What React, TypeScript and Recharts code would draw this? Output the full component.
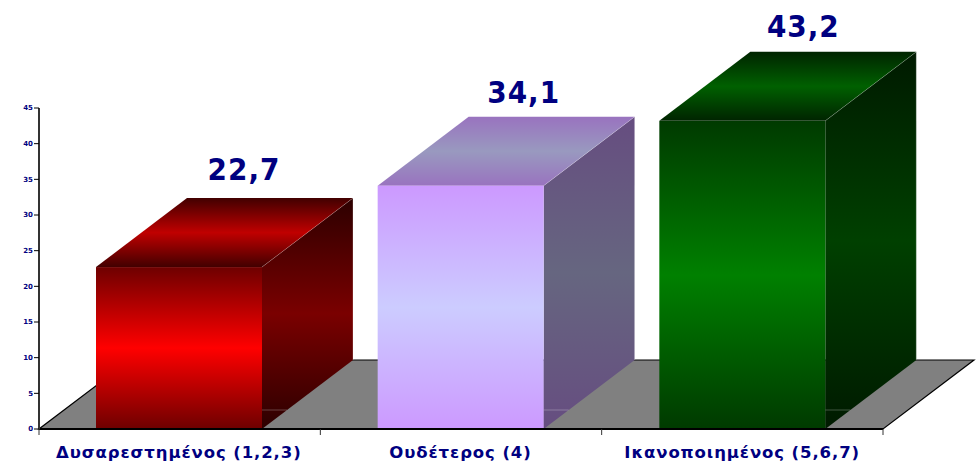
import React from "react"
import { BarChart, Bar, XAxis, YAxis, LabelList, ReferenceArea } from "recharts"

const categories = ["Δυσαρεστημένος (1,2,3)", "Ουδέτερος (4)", "Ικανοποιημένος (5,6,7)"]
const values = [22.7, 34.1, 43.2]
const valueTicks = [0, 5, 10, 15, 20, 25, 30, 35, 40, 45]
// the tick-only axis has no series, recharts gives it the domain 0..2 (the data indexes)
const boundaryTicks = [0, 2 / 3, 4 / 3, 2]

// [edge, middle] colours of each face, front / side / top
const frontColors = [["#6e0000", "#ff0000"], ["#cc99ff", "#ccccff"], ["#003a00", "#008000"]]
const sideColors = [["#2c0000", "#7a0000"], ["#664d80", "#666680"], ["#001a00", "#004000"]]
const topColors = [["#420000", "#c00000"], ["#9973bf", "#9999bf"], ["#002400", "#006000"]]

const data = categories.map((name, i) => ({ name, value: values[i] }))

const DEPTH_X = 91
const DEPTH_Y = 69
const NAVY = "#000080"
const FONT = "'DejaVu Sans', Verdana, sans-serif"

// the labels do not sit at the same place over each box in the original
const labelShiftX = [65, 63, 61]
const labelGap = [87, 83, 84]

function Gradient({ id, colors }: { id: string; colors: string[] }) {
  return (
    <linearGradient id={id} x1="0" y1="0" x2="0" y2="1">
      <stop offset="0%" stopColor={colors[0]} />
      <stop offset="50%" stopColor={colors[1]} />
      <stop offset="100%" stopColor={colors[0]} />
    </linearGradient>
  )
}

// the grey floor the boxes stand on
function Floor({ x, y, width, height }: any) {
  const bottom = y + height
  const points = [
    [x, bottom],
    [x + width, bottom],
    [x + width + DEPTH_X, bottom - DEPTH_Y],
    [x + DEPTH_X, bottom - DEPTH_Y],
  ]
  return <polygon points={points.join(" ")} fill="#808080" stroke="#000" strokeWidth={1.2} />
}

function Box({ x, y, width, height, index }: any) {
  const right = x + width
  const bottom = y + height
  const side = [[right, y], [right + DEPTH_X, y - DEPTH_Y], [right + DEPTH_X, bottom - DEPTH_Y], [right, bottom]]
  const top = [[x, y], [x + DEPTH_X, y - DEPTH_Y], [right + DEPTH_X, y - DEPTH_Y], [right, y]]
  const edge = "rgba(255,255,255,0.25)"
  return (
    <g>
      <polygon points={side.join(" ")} fill={`url(#side${index})`} />
      <polygon points={top.join(" ")} fill={`url(#top${index})`} />
      <rect x={x} y={y} width={width} height={height} fill={`url(#front${index})`} />
      <line x1={right} y1={bottom - 19} x2={right + 25} y2={bottom - 19} stroke={edge} />
      <line x1={right} y1={y} x2={right + DEPTH_X} y2={y - DEPTH_Y} stroke={edge} strokeWidth={0.8} />
      <line x1={right + DEPTH_X} y1={y - DEPTH_Y} x2={right + DEPTH_X} y2={bottom - DEPTH_Y} stroke={edge} />
    </g>
  )
}

function ValueLabel({ x, y, width, value, index }: any) {
  return (
    <text
      x={x + width / 2 + labelShiftX[index]}
      y={y - labelGap[index]}
      textAnchor="middle"
      fill={NAVY}
      fontSize={31}
      fontWeight="bold"
      fontFamily="'DejaVu Sans Condensed', 'DejaVu Sans', sans-serif"
      letterSpacing={1}
    >
      {String(value).replace(".", ",")}
    </text>
  )
}

export default function App() {
  return (
    <div style={{ position: "absolute", left: 0, top: 0, width: 980, height: 462, background: "#fff" }}>
      <BarChart
        width={980}
        height={462}
        data={data}
        margin={{ top: 108, right: 97, left: 0, bottom: 0 }}
      >
        <defs>
          {categories.map((_, i) => (
            <React.Fragment key={i}>
              <Gradient id={`front${i}`} colors={frontColors[i]} />
              <Gradient id={`side${i}`} colors={sideColors[i]} />
              <Gradient id={`top${i}`} colors={topColors[i]} />
            </React.Fragment>
          ))}
        </defs>
        {/* numeric axis only for the ticks between the categories */}
        <XAxis
          xAxisId="bounds"
          type="number"
          ticks={boundaryTicks}
          allowDataOverflow
          tick={() => <g />}
          height={1}
          axisLine={{ stroke: "#000", strokeWidth: 2 }}
          tickLine={{ stroke: "#333", strokeWidth: 1 }}
          tickSize={6}
        />
        <XAxis
          xAxisId="names"
          dataKey="name"
          height={32}
          axisLine={false}
          tickLine={false}
          interval={0}
          padding={{ left: -1, right: 0 }}
          tickMargin={10}
          tick={{ fill: NAVY, fontSize: 16.5, fontWeight: "bold", fontFamily: FONT, letterSpacing: 0.9 }}
        />
        <YAxis
          domain={[0, 45]}
          ticks={valueTicks}
          width={39}
          axisLine={{ stroke: "#333", strokeWidth: 2 }}
          tickLine={{ stroke: "#000" }}
          tickSize={5}
          tickMargin={1}
          tick={{ fill: NAVY, fontSize: 7, fontWeight: "bold", fontFamily: FONT }}
        />
        <ReferenceArea xAxisId="bounds" y1={0} y2={45} shape={Floor} ifOverflow="visible" />
        <Bar xAxisId="names" dataKey="value" barSize={166} shape={Box} isAnimationActive={false}>
          <LabelList dataKey="value" content={ValueLabel} />
        </Bar>
      </BarChart>
    </div>
  )
}
